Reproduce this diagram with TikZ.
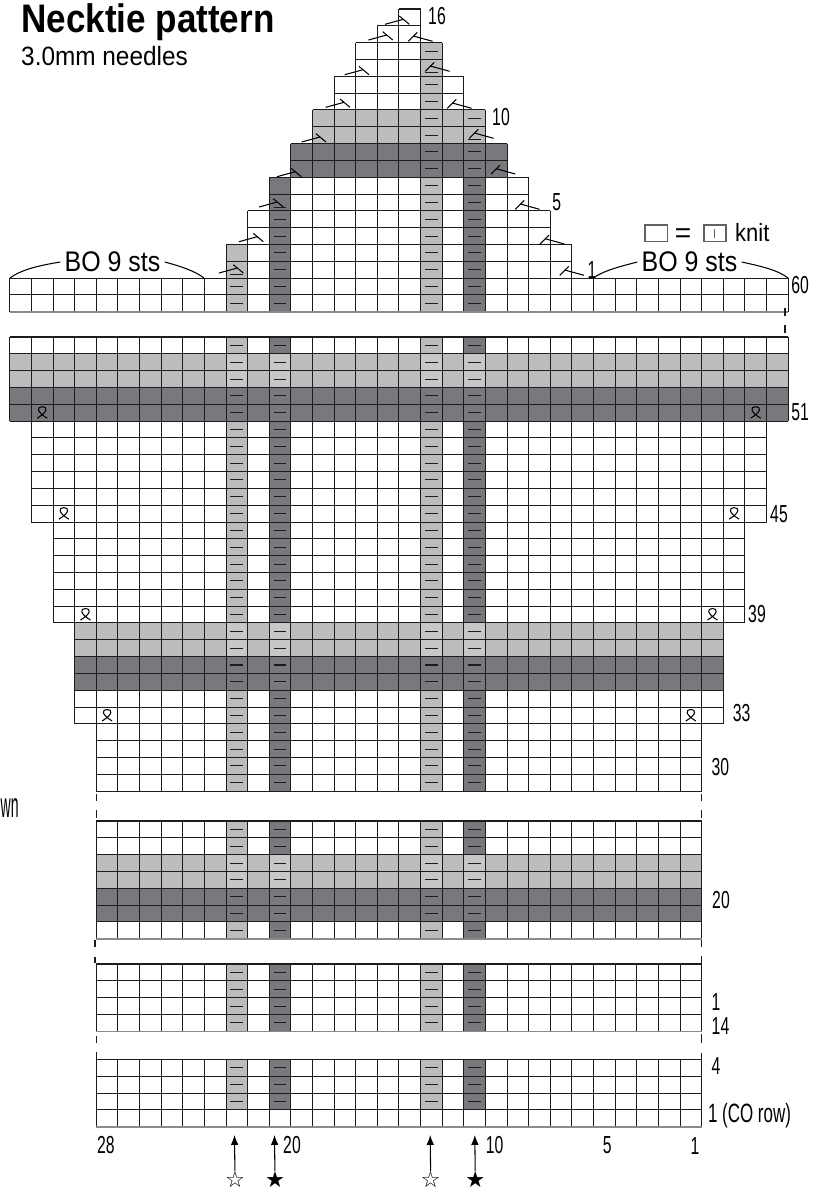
\documentclass[tikz,border=0pt]{standalone}
\usepackage{fontspec}
\setmainfont{Liberation Sans}
\newfontfamily\headfont[FakeStretch=0.88]{Liberation Sans}
\newfontfamily\subfont[FakeStretch=0.92]{Liberation Sans}
\newfontfamily\numfont[FakeStretch=0.64]{Liberation Sans}
\newfontfamily\cutfont[FakeStretch=0.4]{Liberation Sans}
\newfontfamily\symfont{DejaVu Sans}
\definecolor{KnitLight}{HTML}{BBBCBE}
\definecolor{KnitPale}{HTML}{C6C7C9}
\definecolor{KnitDark}{HTML}{77797C}
\definecolor{KnitLine}{HTML}{1C1C1C}
\definecolor{KnitEdge}{HTML}{8A8A8A}
\usetikzlibrary{arrows.meta}
\tikzset{
  gridline/.style={KnitLine, line width=0.88},
  edgeline/.style={KnitEdge, line width=1.3},
  gapline/.style={KnitLine, line width=0.88},
  purlmark/.style={KnitLine, line width=0.88},
  symline/.style={black, line width=0.9},
  rownum/.style={inner sep=0pt, text=black, font=\fontsize{21}{21}\numfont},
  bolabel/.style={inner sep=3.5pt, font=\fontsize{24.2}{24.2}\headfont},
  starmark/.style={inner sep=0pt, font=\fontsize{19}{19}\symfont},
  loopst/.pic={
    \draw[symline] (-5,5.5) .. controls (6,-1) and (5.5,-6) .. (0,-6)
      .. controls (-5.5,-6) and (-6,-1) .. (5,5.5);
  },
  decleft/.pic={
    \draw[symline] (-24.3,0) -- (-6,-5);
    \draw[symline] (0,0) -- (-10,-8.3);
  },
  decright/.pic={
    \draw[symline] (24.3,0) -- (5,-5.3);
    \draw[symline] (0,0) -- (9,-9);
  }
}
\begin{document}
\begin{tikzpicture}[x=0.03cm, y=-0.03cm]
  \useasboundingbox (0,0) rectangle (823,1192);
  \def\cw{21.62}
  \def\rh{16.82}
  \def\xo{96.3}
  \def\yu{9}     % top of the shaped part
  \def\ym{337}   % top of the body
  \def\yc{821}
  \def\yb{964}
  \def\ya{1059.5}
  % colour blocks: left col/right col/base/first row/rows/colour
  \foreach \il/\ir/\yy/\ro/\nr/\clr in {
    6/7/\yu/14/4/KnitLight,
    8/9/\yu/10/8/KnitDark,
    15/16/\yu/2/16/KnitLight,
    17/18/\yu/8/10/KnitDark,
    10/18/\yu/6/2/KnitLight,
    9/19/\yu/8/2/KnitDark,
    6/7/\ym/0/27/KnitLight,
    8/9/\ym/0/27/KnitDark,
    15/16/\ym/0/27/KnitLight,
    17/18/\ym/0/27/KnitDark,
    6/7/\yc/0/7/KnitLight,
    8/9/\yc/0/7/KnitDark,
    15/16/\yc/0/7/KnitLight,
    17/18/\yc/0/7/KnitDark,
    6/7/\yb/0/4/KnitLight,
    8/9/\yb/0/4/KnitDark,
    15/16/\yb/0/4/KnitLight,
    17/18/\yb/0/4/KnitDark,
    6/7/\ya/0/3/KnitLight,
    8/9/\ya/0/3/KnitDark,
    15/16/\ya/0/3/KnitLight,
    17/18/\ya/0/3/KnitDark,
    -4/32/\ym/1/2/KnitLight,
    -4/32/\ym/3/2/KnitDark,
    -1/29/\ym/17/2/KnitLight,
    -1/29/\ym/19/2/KnitDark,
    0/28/\yc/2/2/KnitLight,
    0/28/\yc/4/2/KnitDark}{
    \fill[\clr] (\xo+\il*\cw,\yy+\ro*\rh) rectangle (\xo+\ir*\cw,\yy+\ro*\rh+\nr*\rh);
  }
  % purl columns show paler through the light bands
  \foreach \il in {6,8,15,17}{
    \foreach \yy/\ro in {\ym/1,\ym/17,\yc/2}{
      \fill[KnitPale] (\xo+\il*\cw,\yy+\ro*\rh) rectangle +(\cw,2*\rh);
    }
  }
  % grid blocks: left col/right col/base/first row/rows
  \foreach \il/\ir/\yy/\ro/\nr in {
    14/15/\yu/0/1, 13/15/\yu/1/1, 12/16/\yu/2/2, 11/17/\yu/4/2, 10/18/\yu/6/2,
    9/19/\yu/8/2, 8/20/\yu/10/2, 7/21/\yu/12/2, 6/22/\yu/14/2, -4/32/\yu/16/2,
    -4/32/\ym/0/5, -3/31/\ym/5/6, -2/30/\ym/11/6, -1/29/\ym/17/6, 0/28/\ym/23/4,
    0/28/\yc/0/7, 0/28/\yb/0/4, 0/28/\ya/0/4}{
    \foreach \k in {0,...,\nr}{
      \draw[gridline] (\xo+\il*\cw,\yy+\ro*\rh+\k*\rh) -- (\xo+\ir*\cw,\yy+\ro*\rh+\k*\rh);
    }
    \foreach \c in {\il,...,\ir}{
      \draw[gridline] (\xo+\c*\cw,\yy+\ro*\rh) -- (\xo+\c*\cw,\yy+\ro*\rh+\nr*\rh);
    }
  }
  % pale lower edges of the sections
  \draw[edgeline] (\xo-4*\cw,\yu+18*\rh) -- (\xo+32*\cw,\yu+18*\rh);
  \foreach \yy/\nr in {\yc/7,\yb/4,\ya/4}{
    \draw[edgeline] (\xo,\yy+\nr*\rh) -- (\xo+28*\cw,\yy+\nr*\rh);
  }
  % breaks between the sections
  \foreach \x/\ya/\yz in {
    96.3/794/801, 96.3/810/818, 95/940/947, 95/957/963, 96.3/1036/1043, 96.3/1052/1059,
    701.7/794/801, 701.7/810/818, 701.7/940/947, 701.7/956/963, 701.7/1034/1043, 701.7/1053/1059,
    785/308/316, 785/325/333}{
    \draw[gapline] (\x,\ya) -- (\x,\yz);
  }
  % purl marks: column/base/first row/rows
  \foreach \c/\yy/\ro/\nr in {
    6/\yu/16/2, 8/\yu/12/6, 15/\yu/4/14, 15/\yu/2/1, 17/\yu/8/10, 17/\yu/6/1,
    6/\ym/0/27, 8/\ym/0/27, 15/\ym/0/27, 17/\ym/0/27,
    6/\yc/0/7, 8/\yc/0/7, 15/\yc/0/7, 17/\yc/0/7,
    6/\yb/0/4, 8/\yb/0/4, 15/\yb/0/4, 17/\yb/0/4,
    6/\ya/0/3, 8/\ya/0/3, 15/\ya/0/3, 17/\ya/0/3}{
    \pgfmathtruncatemacro{\kend}{\nr-1}
    \foreach \k in {0,...,\kend}{
      \draw[purlmark] (\xo+\c*\cw+4.4,\yy+\ro*\rh+\k*\rh+8.4) -- +(12.8,0);
    }
  }
  % purl marks pushed down under a decrease
  \foreach \c/\ro in {6/15,8/11,15/3,17/7}{
    \draw[purlmark] (\xo+\c*\cw+4.4,\yu+\ro*\rh+13) -- +(12.8,0);
  }
  % decreases
  \foreach \x/\y in {409.3/24.3,392.7/40,369/74.7,350/107.3,326/142,301.3/176.7,283.3/207,263.3/241.7,243.3/273}{
    \pic at (\x,\y) {decleft};
  }
  \foreach \x/\y in {408.3/41.3,425.3/71.3,447.3/108.3,469.3/138.3,491/174,515.3/209.3,540/244,559.7/275.3}{
    \pic at (\x,\y) {decright};
  }
  % increases
  \foreach \c/\ro in {-3/4,30/4,-2/10,29/10,-1/16,28/16,0/22,27/22}{
    \pic at (\xo+\c*\cw+0.5*\cw,\ym+\ro*\rh+0.5*\rh) {loopst};
  }
  % headings
  \node[anchor=base west, inner sep=0pt, font=\fontsize{34}{34}\headfont\bfseries] (titleA) at (21,32.3) {Necktie pattern};
  \node[anchor=base west, inner sep=0pt, font=\fontsize{22.6}{22.6}\subfont] (titleB) at (21,65) {3.0mm needles};
  \node[anchor=base west, inner sep=0pt, font=\fontsize{30}{30}\cutfont] (cutoff) at (0.5,817) {wn};
  % legend
  \draw[KnitEdge!70!black, line width=0.88] (645,225) rectangle (667.7,241.7);
  \draw[KnitEdge!70!black, line width=0.88] (704,225) rectangle (726,241.7);
  \draw[KnitEdge!70!black, line width=0.7] (714.7,229) -- (714.7,238);
  \node[inner sep=0pt, font=\fontsize{24}{24}\selectfont] (legeq) at (683,235.5) {=};
  \node[anchor=base west, inner sep=0pt, font=\fontsize{21.3}{21.3}\headfont] (legknit) at (735,241) {knit};
  % bound-off braces
  \node[bolabel] (boleft) at (112.5,262) {BO 9 sts};
  \node[bolabel] (boright) at (689.5,262) {BO 9 sts};
  \coordinate (boA) at (10,278);
  \coordinate (boB) at (204,278);
  \coordinate (boC) at (593,278);
  \coordinate (boD) at (788,278);
  \draw[symline] (boA) .. controls (22,269) and (42,265) .. (boleft.west);
  \draw[symline] (boleft.east) .. controls (180,266) and (195,271) .. (boB);
  \draw[symline] (boC) .. controls (605,270) and (622,266) .. (boright.west);
  \draw[symline] (boright.east) .. controls (760,266) and (778,270) .. (boD);
  % row and stitch numbers
  \foreach \name/\x/\y/\txt in {
    rowA/437/16/16, rowB/501/116.7/10, rowC/556.7/201.7/5, rowD/592/270/1,
    rowE/800/285/60, rowF/800/412/51, rowG/779/514/45, rowH/757/614/39,
    rowI/741.7/712.7/33, rowJ/720.3/766.7/30, rowK/721/900/20, rowL/716/1002/1,
    rowM/720.5/1026/14, rowN/716/1066/4,
    colA/105.8/1145/28, colB/292/1145/20, colC/494.7/1145/10, colD/607.3/1145/5, colE/695/1146/1}{
    \node[rownum] (\name) at (\x,\y) {\txt};
  }
  \node[rownum, font=\fontsize{22.6}{22.6}\numfont] (rowO) at (749.5,1116) {1 (CO row)};
  % pattern repeat arrows
  \foreach \name/\x/\sym in {starA/235/☆,starB/275/★,starC/430.7/☆,starD/475.3/★}{
    \node[starmark] (\name) at (\x,1179.5) {\sym};
    \coordinate (\name tip) at (\x-0.5,1135);
    \draw[-{Latex[length=8.5pt,width=6.5pt]}, black, line width=0.9] (\name) -- (\name tip);
  }
\end{tikzpicture}
\end{document}
